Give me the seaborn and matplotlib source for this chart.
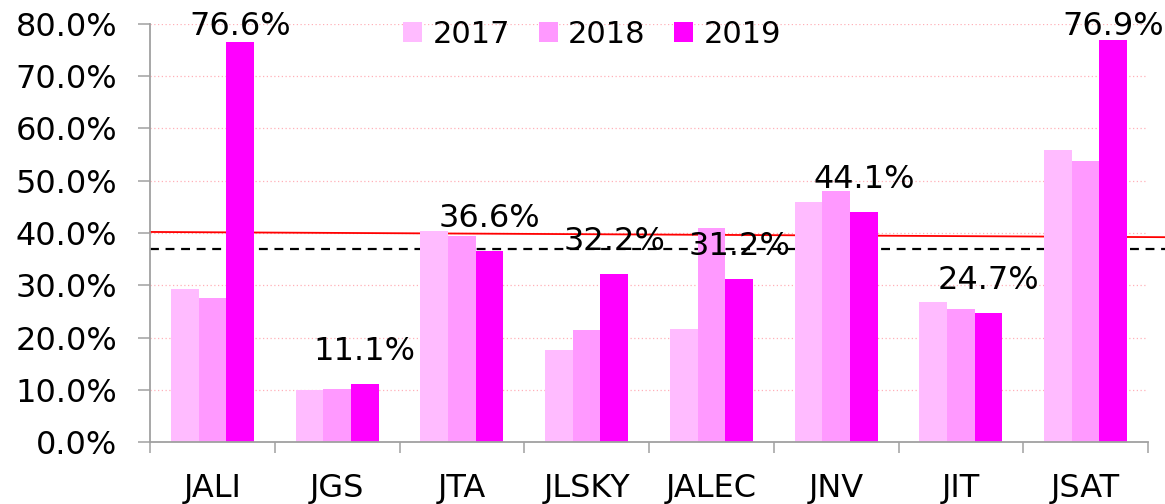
import numpy as np
import pandas as pd
import matplotlib
matplotlib.use("Agg")
import matplotlib.pyplot as plt
import seaborn as sns
from matplotlib.patches import Patch

# values (percent)
companies = ["JALI", "JGS", "JTA", "JLSKY", "JALEC", "JNV", "JIT", "JSAT"]
years = ["2017", "2018", "2019"]
v2017 = [29.2, 9.9, 40.3, 17.6, 21.6, 45.9, 26.8, 55.8]
v2018 = [27.5, 10.1, 39.5, 21.5, 40.9, 48.0, 25.4, 53.7]
v2019 = [76.6, 11.1, 36.6, 32.2, 31.2, 44.1, 24.7, 76.9]
trend_ends = [40.2, 39.2]   # red reference line, left and right end
avg_line = 36.9             # dashed reference line
colors = ["#FFBBFF", "#FF99FF", "#FF00FF"]

df = pd.DataFrame({
    "company": companies * 3,
    "year": [y for y in years for _ in companies],
    "value": v2017 + v2018 + v2019,
})

sns.set_style("white")
plt.rcParams["font.family"] = ["DejaVu Sans"]
plt.rcParams["text.color"] = "black"
fs = 23

fig = plt.figure(figsize=(11.65, 5.04), dpi=100)
ax = fig.add_axes([150 / 1165, 62 / 504, 998 / 1165, 418 / 504])

sns.barplot(data=df, x="company", y="value", hue="year", palette=colors,
            width=0.667, saturation=1, edgecolor="none", linewidth=0,
            legend=False, ax=ax, zorder=2)

ax.set_xlim(-0.5, 7.5)
ax.set_ylim(0, 80)

# reference lines (drawn behind the bars, running past the plot edge)
x_right = 7.5 + 17 / 124.75
ax.plot([-0.5, x_right], trend_ends, color="#FF0000", lw=1.3, zorder=1, clip_on=False)
ax.plot([-0.5, x_right], [avg_line, avg_line], color="black", lw=1.6,
        ls=(0, (4, 3)), zorder=1, clip_on=False)

# grid
for g in np.arange(10, 81, 10):
    ax.axhline(g, color="#FFB0B8", lw=0.9, ls=(0, (1, 2)), zorder=0)

# 2019 data labels
top_limit = (442 - 35) / 418 * 80
for i, v in enumerate(v2019):
    y = min(v + 4.6, top_limit)
    ax.text(i + 0.222, y, f"{v:.1f}%", ha="center", va="baseline",
            fontsize=fs, color="black", zorder=3)

ax.yaxis.set_major_locator(plt.MultipleLocator(10))
ax.set_yticklabels([f"{t:.1f}%" for t in ax.get_yticks()])
ax.tick_params(axis="y", length=8.6, width=1.1, color="#A0A0A0", pad=15,
               labelsize=fs, labelcolor="black", left=True, direction="out")
ax.set_xticks(range(len(companies)))
ax.set_xticklabels(companies)
ax.set_xticks(np.arange(-0.5, 8.0, 1), minor=True)
ax.tick_params(axis="x", which="major", length=0, pad=22, labelsize=fs, labelcolor="black")
ax.tick_params(axis="x", which="minor", length=8, width=1.1, color="#A0A0A0",
               bottom=True, direction="out")
ax.set_xlabel("")
ax.set_ylabel("")

for s in ["top", "right"]:
    ax.spines[s].set_visible(False)
for s in ["left", "bottom"]:
    ax.spines[s].set_color("#A0A0A0")
    ax.spines[s].set_linewidth(1.3)

handles = [Patch(facecolor=c, edgecolor="none") for c in colors]
ax.legend(handles, years, ncol=3, loc="center", bbox_to_anchor=(0.443, 0.976),
          frameon=False, fontsize=22, handlelength=0.62, handleheight=0.62,
          handletextpad=0.33, columnspacing=0.95, borderpad=0, labelcolor="black")

fig.savefig("out.png", dpi=100)
